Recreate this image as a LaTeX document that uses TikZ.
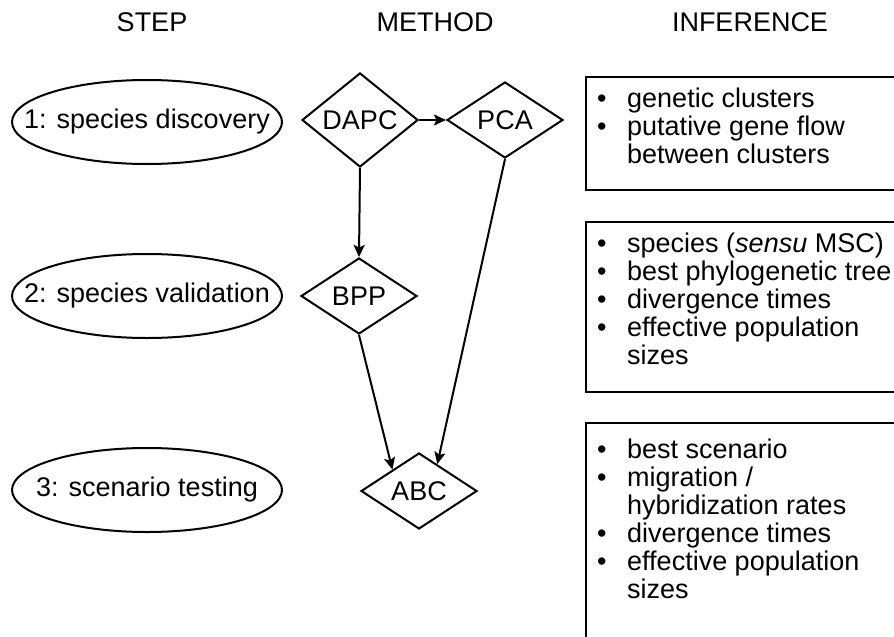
\documentclass[tikz,border=0pt]{standalone}
\usepackage{fontspec}
\setmainfont{Liberation Sans}
\usetikzlibrary{positioning,
				shapes.geometric,
				arrows.meta,
				calc}
\newcommand{\bul}{\makebox[30pt][l]{\textbullet}}
\tikzset{
	stepnode/.style={draw, ellipse, line width=2pt, minimum width=270pt, minimum height=84pt, inner xsep=-30pt, inner ysep=0pt},
	methodnode/.style={draw, diamond, line width=2pt, minimum width=116pt, minimum height=76pt, inner sep=0pt},
	infotext/.style={anchor=north west, align=left, inner sep=0pt},
	flow/.style={line width=2pt, -{Stealth[length=12pt, width=11pt, inset=2.5pt]}}
}

\begin{document}
\begin{tikzpicture}[x=1pt, y=-1pt, font=\fontsize{27}{28}\selectfont]
		\clip (0,0) rectangle (894,637);
		% column heads
		\node (hstep) at (152,22) {STEP};
		\node (hmeth) at (435,22) {METHOD};
		\node (hinf) at (750,22) {INFERENCE};
		% steps
		\node[stepnode] (s1) at (147,122) {1: species discovery};
		\node[stepnode] (s2) at (147,296) {2: species validation};
		\node[stepnode] (s3) at (147,490) {3: scenario testing};
		% methods
		\node[methodnode] (dapc) at (360,120) {DAPC};
		\node[methodnode] (pca) at (505,120) {PCA};
		\node[methodnode] (bpp) at (359,296) {BPP};
		\node[methodnode] (abc) at (419,491) {ABC};
		\draw[flow] (dapc.east) -- (pca.west);
		\draw[flow] (dapc.south) -- (bpp.north);
		\draw[flow] (bpp.south) -- ($(abc.west)!0.55!(abc.north)$);
		\draw[flow] (pca.south) -- ($(abc.north)!0.31!(abc.east)$);
		% inferences
		\draw[line width=2pt] (586,77) rectangle (910,190);
		\node[infotext] (inf1) at (597,87.5) {\bul genetic clusters\\
			\bul putative gene flow\\
			\hphantom{\bul}between clusters};
		\draw[line width=2pt] (586,222) rectangle (910,392);
		\node[infotext] (inf2) at (597,233) {\bul species (\textit{sensu} MSC)\\
			\bul best phylogenetic tree\\
			\bul divergence times\\
			\bul effective population\\
			\hphantom{\bul}sizes};
		\draw[line width=2pt] (586,423) rectangle (910,660);
		\node[infotext] (inf3) at (597,439) {\bul best scenario\\
			\bul migration /\\
			\hphantom{\bul}hybridization rates\\
			\bul divergence times\\
			\bul effective population\\
			\hphantom{\bul}sizes};
	\end{tikzpicture}
\end{document}
